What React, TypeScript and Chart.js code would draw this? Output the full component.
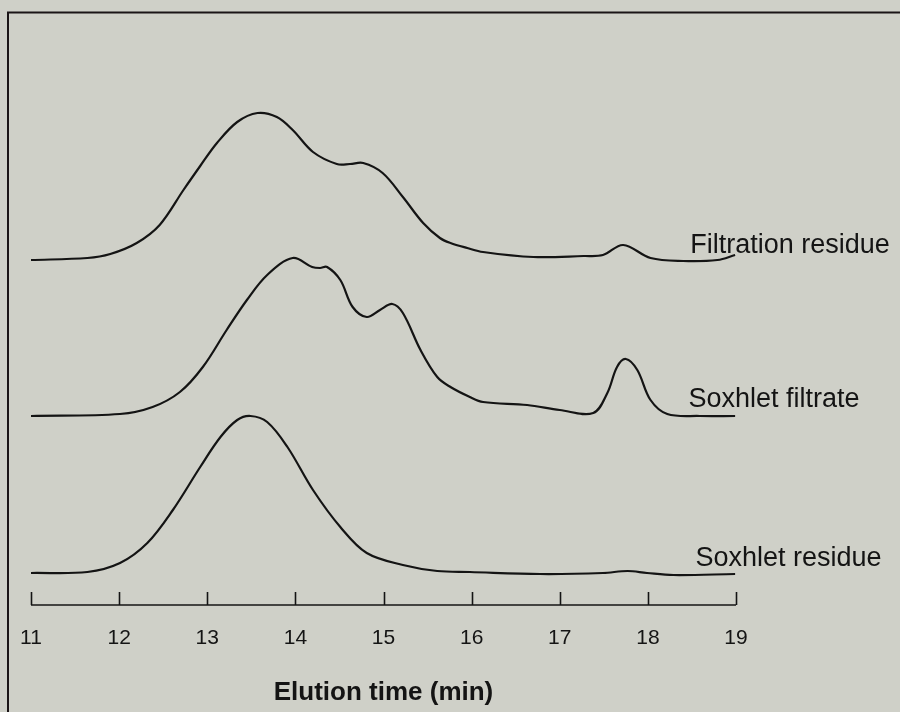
import React, { useEffect, useRef } from "react";
import { Chart, registerables } from "chart.js";

Chart.register(...registerables);

// ---- Data (elution time in min, detector signal in arbitrary units) ----
const seriesNames = ["Filtration residue", "Soxhlet filtrate", "Soxhlet residue"];

const filtrationResidueTime = [
  11.0, 11.64, 11.9, 12.2, 12.46, 12.73, 12.92, 13.11, 13.34, 13.57, 13.79, 13.97, 14.2, 14.47,
  14.62, 14.77, 14.99, 15.22, 15.45, 15.64, 15.76, 15.95, 16.13, 16.7, 17.27, 17.49, 17.72, 18.03,
  18.4, 18.79, 18.99,
];
const filtrationResidueSignal = [
  0, 2, 6, 17, 35, 70, 94, 117, 138, 147, 143, 130, 108, 96, 96, 97, 87, 63, 37, 22, 17, 12, 8, 3,
  4, 5, 15, 2, -1, 0, 5,
];

const soxhletFiltrateTime = [
  11.0, 12.01, 12.38, 12.69, 12.95, 13.22, 13.45, 13.68, 13.97, 14.19, 14.28, 14.36, 14.51, 14.65,
  14.81, 14.96, 15.1, 15.22, 15.42, 15.61, 15.76, 15.98, 16.13, 16.63, 17.0, 17.38, 17.54, 17.65,
  17.75, 17.88, 18.03, 18.22, 18.59, 18.99,
];
const soxhletFiltrateSignal = [
  0, 2, 9, 24, 49, 86, 116, 141, 158, 149, 148, 149, 136, 109, 99, 106, 112, 103, 66, 39, 29, 19,
  14, 11, 6, 3, 23, 49, 57, 46, 16, 2, 0, 0,
];

const soxhletResidueTime = [
  11.0, 11.64, 12.01, 12.32, 12.61, 12.92, 13.15, 13.34, 13.49, 13.68, 13.91, 14.2, 14.51, 14.81,
  15.22, 15.61, 15.98, 16.78, 17.49, 17.77, 17.99, 18.29, 18.99,
];
const soxhletResidueSignal = [
  0, 1, 10, 30, 63, 106, 136, 153, 157, 151, 126, 83, 46, 20, 8, 2, 1, -1, 0, 2, 0, -2, -1,
];

// vertical stacking offset of each trace (signal units)
const traceOffsets = [345, 189, 32];
// where each trace's name is written: elution time of its left edge, height above the trace offset
const labelTimes = [18.48, 18.46, 18.54];
const labelLift = [7, 9, 7];

const xTickValues = [11, 12, 13, 14, 15, 16, 17, 18, 19];
const axisTitle = "Elution time (min)";

const FONT = "'Liberation Sans', Arial, Helvetica, sans-serif";
const INK = "#141414";

const decorPlugin = {
  id: "decor",
  beforeDraw(chart: any) {
    const { ctx, width, height } = chart;
    ctx.save();
    ctx.fillStyle = "#cfd0c8";
    ctx.fillRect(0, 0, width, height);
    ctx.strokeStyle = "#1a1416";
    ctx.lineWidth = 2;
    ctx.beginPath();
    ctx.moveTo(8, height);
    ctx.lineTo(8, 12.5);
    ctx.lineTo(width, 12.5);
    ctx.stroke();
    ctx.restore();
  },
  afterDraw(chart: any) {
    const { ctx, chartArea } = chart;
    const xs = chart.scales.x;
    const ys = chart.scales.y;
    ctx.save();
    ctx.strokeStyle = INK;
    ctx.lineWidth = 1.6;
    const yb = chartArea.bottom;
    ctx.beginPath();
    ctx.moveTo(xs.getPixelForValue(xTickValues[0]), yb);
    ctx.lineTo(xs.getPixelForValue(xTickValues[xTickValues.length - 1]), yb);
    ctx.stroke();
    xTickValues.forEach((v) => {
      const px = Math.round(xs.getPixelForValue(v)) + 0.5;
      ctx.beginPath();
      ctx.moveTo(px, yb);
      ctx.lineTo(px, yb - 13);
      ctx.stroke();
    });
    ctx.fillStyle = INK;
    ctx.font = `27px ${FONT}`;
    ctx.textAlign = "left";
    ctx.textBaseline = "alphabetic";
    seriesNames.forEach((name, i) => {
      ctx.fillText(
        name,
        xs.getPixelForValue(labelTimes[i]),
        ys.getPixelForValue(traceOffsets[i] + labelLift[i])
      );
    });
    ctx.restore();
  },
};

function buildPoints(times: number[], signal: number[], offset: number) {
  return times.map((t, i) => ({ x: t, y: signal[i] + offset }));
}

export default function App() {
  const canvasRef = useRef<HTMLCanvasElement | null>(null);

  useEffect(() => {
    const canvas = canvasRef.current;
    if (!canvas) return;
    const series = [
      [filtrationResidueTime, filtrationResidueSignal],
      [soxhletFiltrateTime, soxhletFiltrateSignal],
      [soxhletResidueTime, soxhletResidueSignal],
    ];
    const chart = new Chart(canvas, {
      type: "line",
      data: {
        datasets: series.map(([t, s], i) => ({
          label: seriesNames[i],
          data: buildPoints(t as number[], s as number[], traceOffsets[i]),
          borderColor: INK,
          borderWidth: 2.2,
          pointRadius: 0,
          fill: false,
          tension: 0.35,
          clip: false as any,
        })),
      },
      options: {
        responsive: false,
        maintainAspectRatio: false,
        devicePixelRatio: 1,
        animation: false,
        layout: { padding: { left: 31, right: 164, top: 100, bottom: 0 } },
        plugins: { legend: { display: false }, tooltip: { enabled: false } },
        scales: {
          x: {
            type: "linear",
            min: 11,
            max: 19,
            grid: { display: false, drawTicks: false },
            border: { display: false },
            afterBuildTicks: (scale: any) => {
              scale.ticks = xTickValues.map((v) => ({ value: v }));
            },
            afterFit: (scale: any) => {
              scale.height = 107;
              scale.paddingLeft = 0;
              scale.paddingRight = 0;
            },
            ticks: {
              autoSkip: false,
              maxRotation: 0,
              padding: 21,
              color: INK,
              font: { family: FONT, size: 21 },
              callback: (v: any) => String(v),
            },
            title: {
              display: true,
              text: axisTitle,
              color: INK,
              font: { family: FONT, size: 26, weight: "bold" },
              padding: { top: 3.6, bottom: 4 },
            },
          },
          y: {
            type: "linear",
            display: false,
            min: 0,
            max: 505,
          },
        },
      },
      plugins: [decorPlugin],
    });
    return () => chart.destroy();
  }, []);

  return (
    <div
      style={{
        position: "fixed",
        left: 0,
        top: 0,
        width: 900,
        height: 712,
        background: "#cfd0c8",
        overflow: "hidden",
      }}
    >
      <canvas ref={canvasRef} width={900} height={712} style={{ display: "block" }} />
    </div>
  );
}
